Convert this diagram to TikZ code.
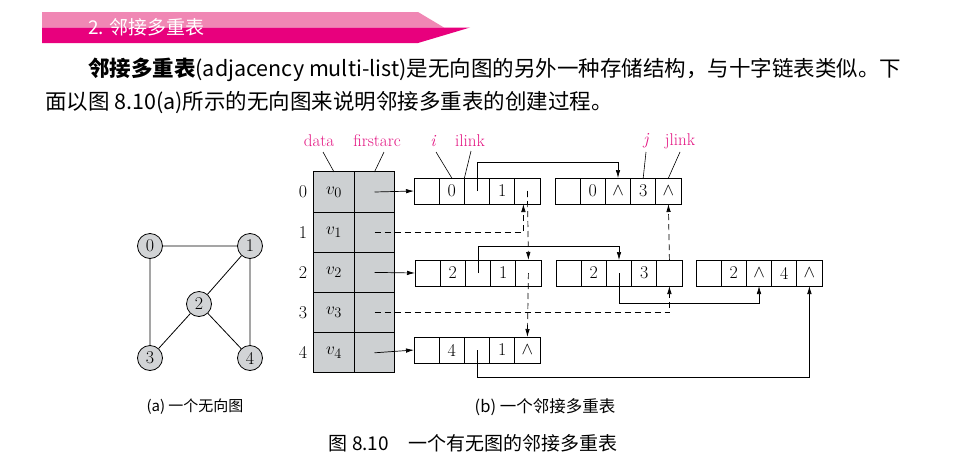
\documentclass[tikz,border=0pt]{standalone}
\usepackage{fontspec}
\newfontfamily\cjk{Noto Sans CJK SC}
\usetikzlibrary{arrows.meta}
\definecolor{lab}{RGB}{228,20,130}
\definecolor{bannerA}{RGB}{240,135,180}
\definecolor{bannerB}{RGB}{232,0,125}
\definecolor{tgray}{RGB}{205,208,210}
\definecolor{ngray}{RGB}{210,212,214}
\tikzset{
  cell/.style={draw,line width=0.7pt,minimum width=25.2pt,minimum height=26pt,inner sep=0pt,outer sep=0pt,anchor=west,font=\fontsize{18}{18}\selectfont},
  tcell/.style={draw,line width=0.9pt,fill=tgray,minimum width=40.5pt,minimum height=40.2pt,inner sep=0pt,outer sep=0pt,font=\fontsize{19}{19}\selectfont},
  gnode/.style={circle,draw,line width=0.8pt,fill=ngray,minimum size=25pt,inner sep=0pt,font=\fontsize{18}{18}\selectfont},
  lbl/.style={text=lab,font=\fontsize{17}{17}\selectfont,inner sep=0pt},
  arr/.style={line width=0.7pt,-{Latex[length=8pt,width=4.5pt]}},
  darr/.style={arr,dash pattern=on 6pt off 4pt},
  captxt/.style={font=\cjk\fontsize{15}{15}\selectfont,inner sep=0pt},
}
\newcommand\myrec[7]{%
  \node[cell] (#1-1) at (#2,#3) {};
  \node[cell] (#1-2) at (#2+25.2,#3) {#4};
  \node[cell] (#1-3) at (#2+50.4,#3) {#5};
  \node[cell] (#1-4) at (#2+75.6,#3) {#6};
  \node[cell] (#1-5) at (#2+100.8,#3) {#7};}
\begin{document}
\begin{tikzpicture}[x=1pt,y=-1pt]
\useasboundingbox[fill=white] (0,0) rectangle (965,466);
% banner
\fill[bannerA] (42,12) -- (418,12) -- (444,27.5) -- (42,27.5) -- cycle;
\fill[bannerB] (42,27.5) -- (470,27.5) -- (418,43) -- (42,43) -- cycle;
\node[anchor=west,text=white,font=\cjk\fontsize{19}{19}\selectfont,inner sep=0pt] (ban) at (88,27) {2. 邻接多重表};
% paragraph
\node[anchor=west,font=\cjk\fontsize{21.5}{21}\selectfont,inner sep=0pt] (p1) at (88,70) {\textbf{邻接多重表}(adjacency multi-list)是无向图的另外一种存储结构，与十字链表类似。下};
\node[anchor=west,font=\cjk\fontsize{21.5}{21}\selectfont,inner sep=0pt] (p2) at (45,103) {面以图 8.10(a)所示的无向图来说明邻接多重表的创建过程。};
% graph
\node[gnode] (g0) at (150,246) {0};
\node[gnode] (g1) at (250,246) {1};
\node[gnode] (g2) at (199,304) {2};
\node[gnode] (g3) at (150,358) {3};
\node[gnode] (g4) at (250,358) {4};
\draw[line width=0.8pt] (g0)--(g1) (g0)--(g3) (g1)--(g2) (g1)--(g4) (g2)--(g3) (g2)--(g4);
% table
\foreach \r in {0,...,4}{
  \node[tcell] (d\r) at (334,{192+40.2*\r}) {$v_{\r}$};
  \node[tcell] (f\r) at (374.5,{192+40.2*\r}) {};
  \node[font=\fontsize{18}{18}\selectfont] (n\r) at (303,{192+40.2*\r}) {\r};
}
\node[lbl] (ldata) at (319,141) {data};
\node[lbl] (lfirst) at (377,141) {firstarc};
\node[lbl] (li) at (433,141) {\itshape i};
\node[lbl] (lil) at (470,141) {ilink};
\node[lbl] (lj) at (646,141) {\itshape j};
\node[lbl] (ljl) at (680,141) {jlink};
% records
\myrec{A}{414}{191}{0}{}{1}{}
\myrec{B}{555}{191}{0}{$\wedge$}{3}{$\wedge$}
\myrec{C}{415}{273}{2}{}{1}{}
\myrec{D}{556}{273}{2}{}{3}{}
\myrec{E}{696}{273}{2}{$\wedge$}{4}{$\wedge$}
\myrec{F}{414}{350}{4}{}{1}{$\wedge$}
% label lead lines
\draw[line width=0.6pt] (323,152) -- (d0.north);
\draw[line width=0.6pt] (384,152) -- (f0.north);
\draw[line width=0.6pt] (436,152) -- (A-2.north);
\draw[line width=0.6pt] (471,151) -- (A-3.north west);
\draw[line width=0.6pt] (646,152) -- (B-4.north);
\draw[line width=0.6pt] (680,152) -- (B-5.north);
% pointers
\draw[arr] (f0.center) -- (A-1.west);
\draw[arr] (f2.center) -- (C-1.west);
\draw[arr] (f4.center) -- (F-1.west);
\draw[darr] (f1.center) -| ([xshift=-4pt]A-5.south);
\draw[darr] (A-5.center) -- (C-5.north);
\draw[darr] (C-5.center) -- (F-5.north);
\draw[arr] (A-3.center) -- (A-3.center |- 0,162) -| (B-3.north);
\draw[arr] (C-3.center) -- (C-3.center |- 0,246) -| (D-3.north);
\draw[arr] (D-3.center) -- (D-3.center |- 0,303) -| (E-3.south);
\draw[darr] (f3.center) -| (D-5.south);
\draw[darr] (D-5.north) -- (B-5.south);
\draw[arr] (F-3.center) -- (F-3.center |- 0,377) -| (E-5.south);
% captions
\node[captxt] (ca) at (195,407) {(a) 一个无向图};
\node[captxt,font=\cjk\fontsize{16.5}{16}\selectfont] (cb) at (545,407) {(b) 一个邻接多重表};
\node[captxt,font=\cjk\fontsize{19}{19}\selectfont] (cc) at (473,443) {图 8.10\quad 一个有无图的邻接多重表};
\end{tikzpicture}
\end{document}
